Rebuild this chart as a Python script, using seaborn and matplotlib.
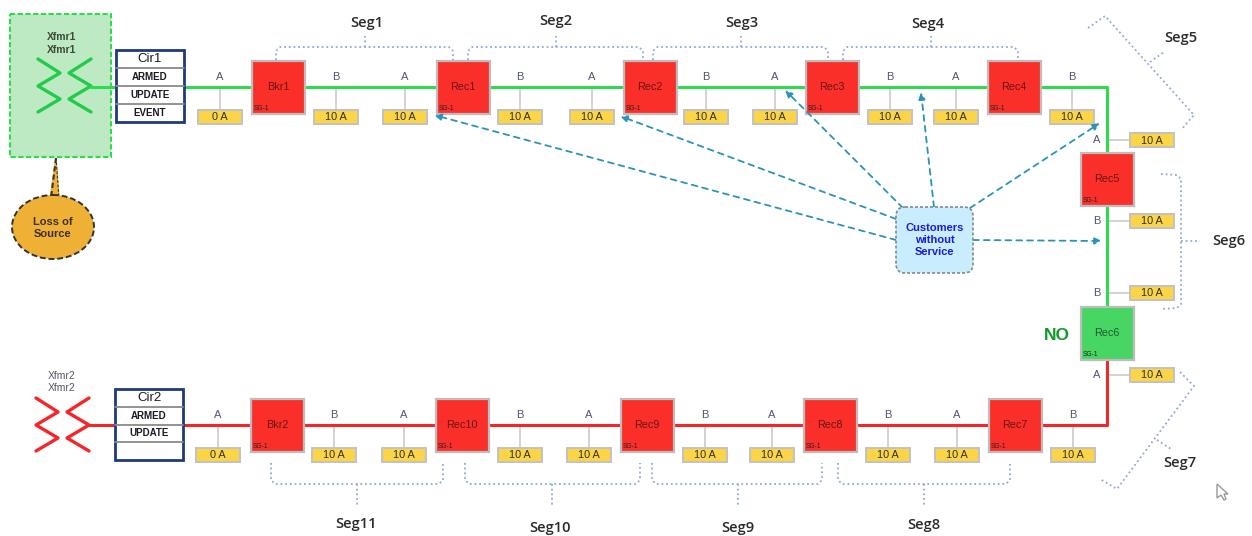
import matplotlib.pyplot as plt
import matplotlib.patches as mpatches
import numpy as np
import seaborn as sns

sns.set_theme(style="white")
plt.rcParams["font.family"] = ["Liberation Sans", "DejaVu Sans"]

GREEN = "#2edb4e"
RED = "#f5262a"
TEAL = "#2a93b8"
DOT = "#8ea9dc"

# devices
device_names = ["Bkr1", "Rec1", "Rec2", "Rec3", "Rec4", "Rec5", "Rec6",
                "Rec7", "Rec8", "Rec9", "Rec10", "Bkr2"]
device_x = [278, 463, 650, 832, 1014, 1107, 1107, 1015, 830, 647, 462, 277]
device_y = [87, 87, 87, 87, 87, 179, 333, 425, 425, 425, 425, 425]
device_colors = ["#fb2f2a"] * 6 + ["#47d664"] + ["#fb2f2a"] * 5

# sensors along the two horizontal feeders
top_phase = ["A", "B", "A", "B", "A", "B", "A", "B", "A", "B"]
top_amps = ["0 A"] + ["10 A"] * 9
top_x = [220, 336, 405, 520, 592, 706, 775, 890, 956, 1072]
bottom_phase = ["A", "B", "A", "B", "A", "B", "A", "B", "A", "B"]
bottom_amps = ["0 A"] + ["10 A"] * 9
bottom_x = [218, 334, 404, 520, 589, 705, 772, 888, 957, 1073]

# sensors on the vertical run
side_phase = ["A", "B", "B", "A"]
side_amps = ["10 A", "10 A", "10 A", "10 A"]
side_y = [140, 221, 293, 375]

# segment brackets: name, left, right, stem x, label x, label y
top_segs = ["Seg1", "Seg2", "Seg3", "Seg4"]
top_seg_left = [276, 468, 653, 843]
top_seg_right = [453, 643, 828, 1018]
top_seg_stem = [365, 556, 741, 931]
top_seg_label_x = [367, 556, 742, 928]
top_seg_label_y = [23, 21, 23, 24]
bottom_segs = ["Seg11", "Seg10", "Seg9", "Seg8"]
bottom_seg_left = [271, 465, 652, 838]
bottom_seg_right = [443, 640, 822, 1010]
bottom_seg_stem = [357, 552, 738, 924]
bottom_seg_label_x = [356, 550, 738, 924]
bottom_seg_label_y = [524, 528, 528, 525]

# arrows out of the customers box
arrow_from_x = [896, 896, 903, 934, 970, 973]
arrow_from_y = [240, 219, 208, 207, 208, 240]
arrow_to_x = [434, 620, 785, 921, 1100, 1102]
arrow_to_y = [115, 116, 90, 92, 123, 241]

cir1_rows = ["Cir1", "ARMED", "UPDATE", "EVENT"]
cir2_rows = ["Cir2", "ARMED", "UPDATE", ""]


def wire(ax, xs, ys, color, lw=2.2, ls="-", z=2):
    sns.lineplot(x=xs, y=ys, ax=ax, color=color, linewidth=lw, linestyle=ls,
                 sort=False, estimator=None, legend=False, zorder=z)


def sensor_box(ax, cx, cy, label):
    ax.add_patch(mpatches.Rectangle((cx - 22, cy - 7), 44, 14, facecolor="#fbd545",
                                    edgecolor="#c2c2c2", linewidth=1.4, zorder=4))
    ax.text(cx, cy + 0.5, label, ha="center", va="center", fontsize=7.8,
            color="#33302a", zorder=5)


def dotted(ax, xs, ys):
    wire(ax, xs, ys, DOT, lw=1.3, ls=(0, (1, 1.6)), z=1)


def zigzag(ax, x_left, x_right, y_top, color):
    offs = np.array([0, 14, 27, 40, 53])
    wire(ax, [x_left, x_left + 22] * 2 + [x_left], y_top + offs, color, lw=2.4)
    wire(ax, [x_right, x_right - 22] * 2 + [x_right], y_top + offs, color, lw=2.4)


def cir_table(ax, x0, x1, y0, y1, rows, seps):
    ax.add_patch(mpatches.Rectangle((x0, y0), x1 - x0, y1 - y0, facecolor="white",
                                    edgecolor="#1f3a7a", linewidth=2.0, zorder=4))
    edges = [y0] + seps + [y1]
    for sep in seps:
        wire(ax, [x0, x1], [sep, sep], "#8a8a8a", lw=1.3, z=5)
    for i, row in enumerate(rows):
        mid = (edges[i] + edges[i + 1]) / 2
        ax.text((x0 + x1) / 2, mid, row, ha="center", va="center", zorder=6,
                fontsize=9.5 if i == 0 else 7, fontweight="bold" if i else "normal",
                color="#1a1a24")


fig, ax = plt.subplots(figsize=(12.52, 5.36), dpi=100)
fig.subplots_adjust(0, 0, 1, 1)
ax.set_xlim(0, 1252)
ax.set_ylim(536, 0)
ax.axis("off")

# source block
ax.add_patch(mpatches.Rectangle((10, 14), 101, 143, facecolor="#bdeac3",
                                edgecolor=GREEN, linewidth=1.5, linestyle=(0, (2.5, 1.2)), zorder=1))
ax.fill([50, 56, 59], [199, 158, 199], color="#eeb136", zorder=2)
wire(ax, [56, 51], [158, 198], "#333333", lw=1.5, ls=(0, (2.5, 1.5)), z=3)
wire(ax, [56, 59], [158, 198], "#333333", lw=0.8, ls=(0, (2.5, 1.5)), z=3)
ax.add_patch(mpatches.Ellipse((53, 227), 82, 64, facecolor="#eeb136", edgecolor="#333333",
                              linewidth=1.4, linestyle=(0, (3, 1.5)), zorder=4))
ax.text(53, 228, "Loss of\nSource", ha="center", va="center", fontsize=8,
        fontweight="bold", color="#3a3020", linespacing=1.15, zorder=5)
ax.text(62, 37, "Xfmr1", ha="center", va="center", fontsize=7.5, fontweight="bold", color="#3c4a3c")
ax.text(62, 50, "Xfmr1", ha="center", va="center", fontsize=7.5, fontweight="bold", color="#3c4a3c")
ax.text(62, 376, "Xfmr2", ha="center", va="center", fontsize=7.5, color="#555566")
ax.text(62, 388, "Xfmr2", ha="center", va="center", fontsize=7.5, color="#555566")
zigzag(ax, 38, 91, 59, "#22cc4a")
zigzag(ax, 36, 89, 398, RED)

# feeders
wire(ax, [91, 1107, 1107], [87, 87, 306], GREEN)
wire(ax, [89, 1107, 1107], [425, 425, 360], RED)

cir_table(ax, 116, 184, 50, 122, cir1_rows, [68, 86, 104])
cir_table(ax, 115, 183, 389, 460, cir2_rows, [407, 425, 442])

# sensors
for x, ph, amp in zip(top_x, top_phase, top_amps):
    wire(ax, [x, x], [88, 110], "#cfcfcf", lw=1.3, z=1)
    ax.text(x, 77, ph, ha="center", va="center", fontsize=8, color="#4d5670")
    sensor_box(ax, x, 117, amp)
for x, ph, amp in zip(bottom_x, bottom_phase, bottom_amps):
    wire(ax, [x, x], [426, 448], "#cfcfcf", lw=1.3, z=1)
    ax.text(x, 415, ph, ha="center", va="center", fontsize=8, color="#4d5670")
    sensor_box(ax, x, 455, amp)
for y, ph, amp in zip(side_y, side_phase, side_amps):
    wire(ax, [1108, 1130], [y, y], "#cfcfcf", lw=1.3, z=1)
    ax.text(1097, y, ph, ha="center", va="center", fontsize=8, color="#4d5670")
    sensor_box(ax, 1152, y, amp)

# devices
for name, x, y, col in zip(device_names, device_x, device_y, device_colors):
    ax.add_patch(mpatches.Rectangle((x - 26.5, y - 26.5), 53, 53, facecolor=col,
                                    edgecolor="#bdbdbd", linewidth=1.6, zorder=6))
    ax.text(x, y, name, ha="center", va="center", fontsize=7.8, zorder=7,
            color="#1f5c2e" if col == "#47d664" else "#6b1414")
    ax.text(x - 24, y + 22, "SG-1", ha="left", va="center", fontsize=4.8, zorder=7,
            color="#222222")
ax.text(1057, 335, "NO", ha="center", va="center", fontsize=12.5, fontweight="bold", color="#109a2c")

# brackets
for left, right, stem, name, lx, ly in zip(top_seg_left, top_seg_right, top_seg_stem, top_segs,
                                           top_seg_label_x, top_seg_label_y):
    dotted(ax, [left, left, left + 4, right - 4, right, right], [60, 51, 47, 47, 51, 60])
    dotted(ax, [stem, stem], [47, 36])
    ax.text(lx, ly, name, ha="center", va="center", fontsize=10.5, color="#2a2a2a",
            family=["Open Sans", "DejaVu Sans"], fontweight="semibold")
for left, right, stem, name, lx, ly in zip(bottom_seg_left, bottom_seg_right, bottom_seg_stem,
                                           bottom_segs, bottom_seg_label_x, bottom_seg_label_y):
    dotted(ax, [left, left, left + 4, right - 4, right, right], [463, 480, 484, 484, 480, 463])
    dotted(ax, [stem, stem], [484, 505])
    ax.text(lx, ly, name, ha="center", va="center", fontsize=10.5, color="#2a2a2a",
            family=["Open Sans", "DejaVu Sans"], fontweight="semibold")

dotted(ax, [1088, 1105, 1194, 1181], [28, 16, 115, 130])
dotted(ax, [1150, 1164], [62, 52])
dotted(ax, [1161, 1177, 1181, 1181, 1177, 1161], [174, 175, 179, 304, 308, 309])
dotted(ax, [1181, 1200], [241, 241])
dotted(ax, [1180, 1194, 1117, 1100], [372, 386, 489, 479])
dotted(ax, [1157, 1171], [440, 449])
for name, lx, ly in [("Seg5", 1181, 38), ("Seg6", 1229, 241), ("Seg7", 1180, 463)]:
    ax.text(lx, ly, name, ha="center", va="center", fontsize=10.5, color="#2a2a2a",
            family=["Open Sans", "DejaVu Sans"], fontweight="semibold")

# customers box and arrows
for x0, y0, x1, y1 in zip(arrow_from_x, arrow_from_y, arrow_to_x, arrow_to_y):
    ax.annotate("", xy=(x1, y1), xytext=(x0, y0), zorder=8,
                arrowprops=dict(arrowstyle="-|>,head_width=0.16,head_length=0.35", color=TEAL,
                                lw=1.3, linestyle=(0, (3.2, 2.8)), shrinkA=0, shrinkB=0))
ax.add_patch(mpatches.FancyBboxPatch((902, 213), 65, 54, boxstyle="round,pad=6,rounding_size=9",
                                     facecolor="#c9edfc", edgecolor="#808a8e", linewidth=1.2,
                                     linestyle=(0, (1.8, 1.2)), zorder=9))
ax.text(934.5, 240, "Customers\nwithout\nService", ha="center", va="center", fontsize=8,
        fontweight="bold", color="#1a1ae6", linespacing=1.25, zorder=10)

# mouse pointer
ax.add_patch(mpatches.Polygon([(1217, 484), (1217, 498), (1221, 495), (1224, 500),
                               (1226, 499), (1224, 494), (1228, 494)],
                              closed=True, facecolor="white", edgecolor="#9a9a9a", linewidth=1))

fig.savefig("out.png", dpi=100)
